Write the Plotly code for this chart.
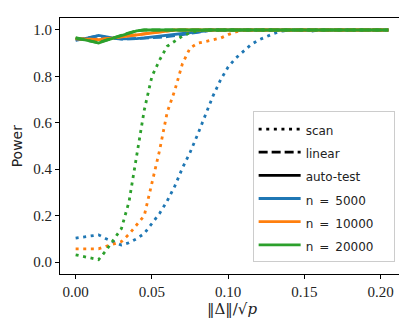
import plotly.graph_objects as go

x = [round(i * 0.005, 3) for i in range(42)]

scan_5000 = [0.103, 0.108, 0.112, 0.117, 0.100, 0.086, 0.073, 0.083, 0.100, 0.123,
             0.164, 0.209, 0.263, 0.327, 0.405, 0.472, 0.550, 0.630, 0.715, 0.785,
             0.841, 0.879, 0.910, 0.937, 0.957, 0.971, 0.985, 0.995, 0.998, 1.0,
             0.998, 0.995, 1.0, 1.0, 1.0, 1.0, 1.0, 1.0, 1.0, 1.0, 1.0, 1.0]
scan_10000 = [0.057, 0.057, 0.057, 0.057, 0.068, 0.077, 0.088, 0.120, 0.158, 0.200,
              0.340, 0.480, 0.645, 0.740, 0.855, 0.922, 0.943, 0.950, 0.955, 0.965,
              0.980, 0.992, 0.998, 1.0, 1.0, 1.0, 1.0, 1.0, 1.0, 1.0,
              1.0, 1.0, 1.0, 1.0, 1.0, 1.0, 1.0, 1.0, 1.0, 1.0, 1.0, 1.0]
scan_20000 = [0.031, 0.025, 0.017, 0.010, 0.050, 0.095, 0.144, 0.260, 0.450, 0.655,
              0.800, 0.870, 0.930, 0.953, 0.974, 0.988, 0.996, 1.0, 1.0, 1.0,
              1.0, 1.0, 1.0, 1.0, 1.0, 1.0, 1.0, 1.0, 1.0, 1.0,
              1.0, 1.0, 1.0, 1.0, 1.0, 1.0, 1.0, 1.0, 1.0, 1.0, 1.0, 1.0]

linear_5000 = [0.957, 0.962, 0.969, 0.975, 0.968, 0.963, 0.961, 0.962, 0.963, 0.964,
               0.966, 0.968, 0.971, 0.975, 0.980, 0.985, 0.990, 0.995, 1.0, 1.0,
               1.0, 1.0, 1.0, 1.0, 1.0, 1.0, 1.0, 1.0, 1.0, 1.0,
               1.0, 1.0, 1.0, 1.0, 1.0, 1.0, 1.0, 1.0, 1.0, 1.0, 1.0, 1.0]
linear_10000 = [0.962, 0.961, 0.960, 0.959, 0.963, 0.967, 0.971, 0.975, 0.979, 0.982,
                0.986, 0.991, 0.996, 1.0, 1.0, 1.0, 1.0, 1.0, 1.0, 1.0,
                1.0, 1.0, 1.0, 1.0, 1.0, 1.0, 1.0, 1.0, 1.0, 1.0,
                1.0, 1.0, 1.0, 1.0, 1.0, 1.0, 1.0, 1.0, 1.0, 1.0, 1.0, 1.0]
linear_20000 = [0.965, 0.959, 0.952, 0.946, 0.956, 0.967, 0.977, 0.988, 0.996, 1.0,
                1.0, 1.0, 1.0, 1.0, 1.0, 1.0, 1.0, 1.0, 1.0, 1.0,
                1.0, 1.0, 1.0, 1.0, 1.0, 1.0, 1.0, 1.0, 1.0, 1.0,
                1.0, 1.0, 1.0, 1.0, 1.0, 1.0, 1.0, 1.0, 1.0, 1.0, 1.0, 1.0]

auto_5000 = [0.955, 0.960, 0.968, 0.977, 0.970, 0.965, 0.962, 0.962, 0.963, 0.966,
             0.970, 0.972, 0.975, 0.979, 0.983, 0.987, 0.991, 0.996, 1.0, 1.0,
             1.0, 1.0, 1.0, 1.0, 1.0, 1.0, 1.0, 1.0, 1.0, 1.0,
             1.0, 1.0, 1.0, 1.0, 1.0, 1.0, 1.0, 1.0, 1.0, 1.0, 1.0, 1.0]
auto_10000 = [0.963, 0.962, 0.960, 0.958, 0.962, 0.966, 0.970, 0.974, 0.978, 0.981,
              0.985, 0.990, 0.996, 1.0, 1.0, 1.0, 1.0, 1.0, 1.0, 1.0,
              1.0, 1.0, 1.0, 1.0, 1.0, 1.0, 1.0, 1.0, 1.0, 1.0,
              1.0, 1.0, 1.0, 1.0, 1.0, 1.0, 1.0, 1.0, 1.0, 1.0, 1.0, 1.0]
auto_20000 = [0.967, 0.960, 0.952, 0.944, 0.955, 0.966, 0.977, 0.988, 0.996, 1.0,
              1.0, 1.0, 1.0, 1.0, 1.0, 1.0, 1.0, 1.0, 1.0, 1.0,
              1.0, 1.0, 1.0, 1.0, 1.0, 1.0, 1.0, 1.0, 1.0, 1.0,
              1.0, 1.0, 1.0, 1.0, 1.0, 1.0, 1.0, 1.0, 1.0, 1.0, 1.0, 1.0]

ns = ["5000", "10000", "20000"]
colors = ["#1f77b4", "#ff7f0e", "#2ca02c"]
scan = [scan_5000, scan_10000, scan_20000]
linear = [linear_5000, linear_10000, linear_20000]
auto = [auto_5000, auto_10000, auto_20000]

x_ticks = [0.0, 0.05, 0.10, 0.15, 0.20]
y_ticks = [0.0, 0.2, 0.4, 0.6, 0.8, 1.0]

DOT = "3px,4.6px"
DASH = "9px,4px"
LW = 2.8

fig = go.Figure()
for c, s, l, a in zip(colors, scan, linear, auto):
    fig.add_trace(go.Scatter(x=x, y=s, mode="lines", showlegend=False,
                             line=dict(color=c, width=LW, dash=DOT)))
    fig.add_trace(go.Scatter(x=x, y=l, mode="lines", showlegend=False,
                             line=dict(color=c, width=LW, dash=DASH)))
    fig.add_trace(go.Scatter(x=x, y=a, mode="lines", showlegend=False,
                             line=dict(color=c, width=LW)))

def lab(t):
    return f"<span style='font-size:12px'>{t}</span>\u00a0\u00a0\u00a0"

# legend entries
for name, dash in [("scan", DOT), ("linear", DASH), ("auto-test", "solid")]:
    fig.add_trace(go.Scatter(x=[None], y=[None], mode="lines", name=lab(name),
                             line=dict(color="black", width=LW, dash=dash)))
for n, c in zip(ns, colors):
    fig.add_trace(go.Scatter(x=[None], y=[None], mode="lines",
                             name=lab(f"n\u2002=\u2002{n}"),
                             line=dict(color=c, width=LW)))

axis_common = dict(showline=True, linecolor="black", linewidth=1.1, mirror=True,
                   ticks="outside", ticklen=4, tickwidth=1, tickcolor="black",
                   showgrid=False, zeroline=False,
                   tickfont=dict(family="Liberation Serif", size=15, color="#222"))

fig.update_layout(
    width=407, height=318,
    margin=dict(l=52, r=11, t=10, b=52),
    plot_bgcolor="white", paper_bgcolor="white",
    xaxis=dict(range=[-0.01025, 0.21525], tickvals=x_ticks, tickformat=".2f",
               title=dict(text="‖Δ‖/√<i>p</i>", standoff=4,
                          font=dict(family="DejaVu Serif", size=15, color="#222")),
               **axis_common),
    yaxis=dict(range=[-0.0517, 1.0517], tickvals=y_ticks, tickformat=".1f",
               **axis_common),
    annotations=[dict(text="Power", xref="paper", yref="paper",
                      x=-0.124, y=0.5, xanchor="center", yanchor="middle",
                      textangle=-90, showarrow=False,
                      font=dict(family="DejaVu Sans", size=14, color="#222"))],
    legend=dict(x=0.56, y=0.045, xanchor="left", yanchor="bottom",
                bgcolor="rgba(255,255,255,0.9)", bordercolor="#cccccc", borderwidth=1,
                font=dict(family="DejaVu Sans", size=15.5, color="#222"),
                itemwidth=42, tracegroupgap=0),
)

fig.write_html("out.html")
